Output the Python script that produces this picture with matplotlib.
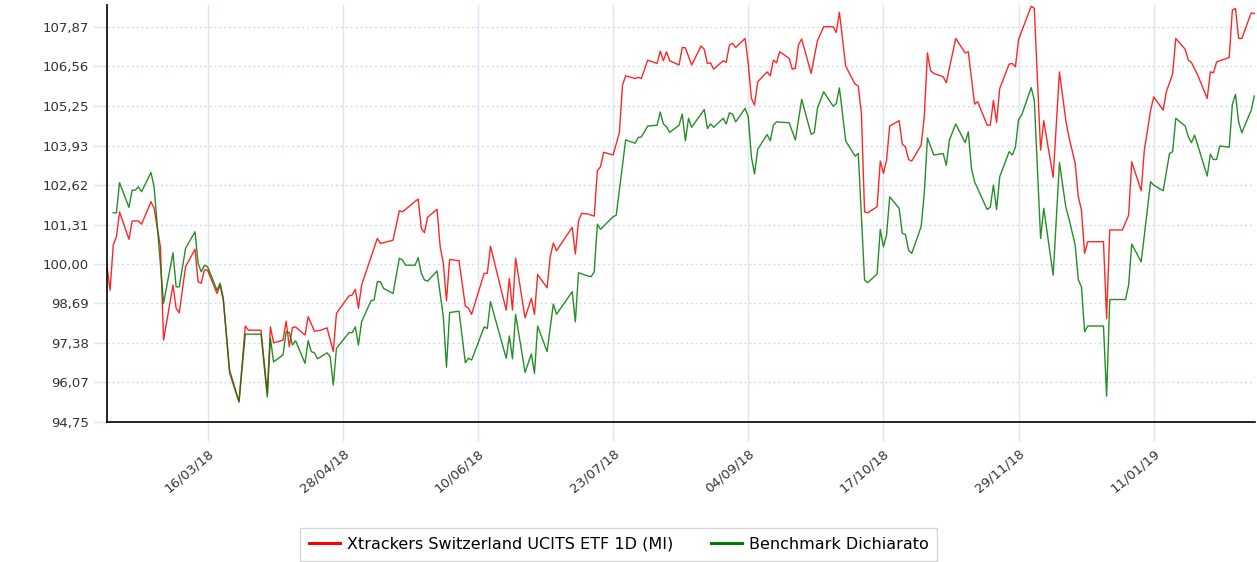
# Recreate the ETF vs benchmark performance chart.
import matplotlib
matplotlib.use("Agg")
import matplotlib.pyplot as plt
import pandas as pd

# Start date of the chart window; the series below are stored as day offsets from it.
start = pd.Timestamp("2018-02-12")

# Xtrackers Switzerland UCITS ETF 1D (MI).
etf_days = [0, 1, 2, 3, 4, 7, 8, 10, 11, 14,
            15, 17, 18, 21, 22, 23, 25, 28, 29, 30,
            31, 32, 35, 36, 37, 39, 42, 44, 45, 49,
            51, 52, 53, 56, 57, 58, 59, 60, 63, 64,
            66, 68, 70, 72, 73, 77, 78, 79, 80, 81,
            86, 87, 91, 93, 94, 99, 100, 101, 102, 105,
            106, 107, 108, 109, 112, 114, 115, 116, 120, 121,
            122, 127, 128, 129, 130, 133, 135, 136, 137, 140,
            141, 142, 143, 148, 149, 150, 151, 153, 155, 156,
            157, 158, 161, 163, 164, 165, 168, 169, 170, 172,
            175, 176, 177, 178, 179, 182, 183, 184, 186, 189,
            190, 191, 192, 193, 196, 197, 198, 199, 200, 203,
            204, 205, 206, 207, 210, 211, 212, 213, 214, 217,
            218, 219, 220, 221, 224, 226, 228, 231, 232, 233,
            235, 238, 239, 240, 241, 242, 245, 246, 247, 248,
            249, 252, 253, 254, 255, 256, 259, 260, 261, 262,
            263, 266, 267, 270, 273, 274, 276, 277, 280, 281,
            282, 283, 284, 287, 288, 289, 290, 294, 295, 297,
            298, 301, 303, 305, 306, 308, 309, 310, 311, 312,
            317, 318, 319, 323, 325, 326, 329, 330, 332, 333,
            336, 337, 339, 340, 343, 344, 345, 347, 350, 351,
            352, 353, 357, 358, 359, 360, 361, 364, 365]
etf_vals = [99.91, 99.13, 100.63, 100.90, 101.73, 100.82, 101.43, 101.43, 101.32, 102.07,
            101.85, 100.57, 97.47, 99.30, 98.53, 98.38, 99.91, 100.49, 99.41, 99.36,
            99.80, 99.80, 99.02, 99.30, 98.80, 96.48, 95.42, 97.94, 97.80, 97.80,
            95.70, 97.91, 97.38, 97.47, 98.10, 97.25, 97.89, 97.91, 97.64, 98.25,
            97.77, 97.80, 97.88, 97.09, 98.36, 98.94, 98.97, 99.16, 98.53, 99.30,
            100.85, 100.68, 100.79, 101.77, 101.73, 102.16, 101.18, 101.04, 101.55, 101.82,
            100.57, 100.02, 98.78, 100.15, 100.11, 98.60, 98.53, 98.33, 99.69, 99.69,
            100.59, 98.47, 99.52, 98.47, 100.19, 98.21, 98.86, 98.33, 99.65, 99.21,
            100.24, 100.70, 100.44, 101.22, 100.33, 101.43, 101.68, 101.66, 101.59, 103.10,
            103.23, 103.71, 103.62, 104.36, 105.94, 106.25, 106.16, 106.20, 106.16, 106.77,
            106.66, 107.07, 106.75, 107.05, 106.75, 106.61, 107.19, 107.18, 106.61, 107.24,
            107.13, 106.66, 106.68, 106.47, 106.75, 106.70, 107.27, 107.33, 107.19, 107.49,
            106.66, 105.50, 105.28, 106.05, 106.38, 106.25, 106.77, 106.68, 107.05, 106.83,
            106.47, 106.50, 107.29, 107.47, 106.33, 107.41, 107.88, 107.88, 107.69, 108.36,
            106.57, 105.97, 105.91, 105.00, 101.73, 101.70, 101.90, 103.42, 103.01, 103.45,
            104.58, 104.76, 103.98, 103.89, 103.47, 103.42, 103.95, 104.89, 107.01, 106.42,
            106.33, 106.22, 106.02, 107.49, 107.01, 107.05, 105.31, 105.39, 104.61, 104.61,
            105.44, 104.70, 105.83, 106.64, 106.66, 106.55, 107.46, 108.56, 108.49, 103.78,
            104.76, 102.88, 106.38, 104.78, 104.22, 103.34, 102.23, 101.79, 100.35, 100.74,
            100.74, 98.19, 101.13, 101.13, 101.62, 103.39, 102.43, 103.78, 105.11, 105.55,
            105.11, 105.72, 106.31, 107.49, 107.13, 106.77, 106.69, 106.27, 105.50, 106.38,
            106.35, 106.71, 106.86, 108.43, 108.49, 107.49, 107.49, 108.34, 108.32]

# Benchmark Dichiarato.
bench_days = [2, 3, 4, 7, 8, 9, 10, 11, 14, 15,
              18, 21, 22, 23, 25, 28, 29, 30, 31, 32,
              35, 36, 37, 39, 42, 44, 49, 51, 52, 53,
              56, 57, 58, 59, 60, 63, 64, 65, 66, 67,
              70, 71, 72, 73, 77, 78, 79, 80, 81, 84,
              85, 86, 87, 88, 91, 93, 94, 95, 98, 99,
              100, 101, 102, 105, 106, 107, 108, 109, 112, 114,
              115, 116, 120, 121, 122, 127, 128, 129, 130, 133,
              135, 136, 137, 140, 142, 143, 148, 149, 150, 153,
              154, 155, 156, 157, 161, 162, 165, 168, 169, 170,
              172, 175, 176, 177, 178, 179, 182, 183, 184, 185,
              186, 190, 191, 192, 193, 196, 197, 198, 199, 200,
              203, 204, 205, 206, 207, 210, 211, 212, 213, 217,
              219, 221, 224, 225, 226, 228, 231, 232, 233, 235,
              238, 239, 241, 242, 245, 246, 247, 248, 249, 252,
              253, 254, 255, 256, 259, 260, 261, 263, 266, 267,
              268, 270, 273, 274, 275, 276, 280, 281, 282, 283,
              284, 287, 288, 289, 290, 291, 294, 295, 297, 298,
              301, 303, 305, 306, 308, 309, 310, 311, 312, 317,
              318, 319, 324, 325, 326, 329, 332, 333, 336, 338,
              339, 340, 343, 344, 345, 346, 350, 351, 352, 353,
              354, 357, 358, 359, 360, 361, 364, 365]
bench_vals = [101.70, 101.70, 102.70, 101.88, 102.45, 102.45, 102.56, 102.40, 103.04, 102.56,
              98.69, 100.37, 99.24, 99.24, 100.52, 101.07, 100.02, 99.74, 99.96, 99.91,
              99.13, 99.36, 98.87, 96.38, 95.42, 97.67, 97.67, 95.59, 97.53, 96.75,
              96.98, 97.75, 97.72, 97.31, 97.45, 96.70, 97.45, 97.09, 97.05, 96.85,
              97.05, 96.92, 95.98, 97.20, 97.72, 97.72, 97.91, 97.31, 98.08, 98.78,
              98.81, 99.41, 99.41, 99.19, 99.02, 100.19, 100.13, 99.96, 99.96, 100.21,
              99.69, 99.47, 99.43, 99.77, 99.02, 98.25, 96.57, 98.39, 98.43, 96.72,
              96.87, 96.81, 97.91, 97.86, 98.75, 96.87, 97.61, 96.85, 98.33, 96.40,
              97.01, 96.37, 97.94, 97.09, 98.67, 98.33, 99.08, 98.08, 99.71, 99.60,
              99.58, 99.74, 101.32, 101.15, 101.57, 101.62, 104.12, 104.01, 104.20, 104.22,
              104.58, 104.61, 105.05, 104.65, 104.56, 104.37, 104.61, 104.98, 104.09, 104.84,
              104.54, 105.13, 104.50, 104.65, 104.54, 104.84, 104.65, 105.02, 104.98, 104.72,
              105.17, 104.89, 103.56, 102.99, 103.81, 104.30, 104.09, 104.61, 104.72, 104.69,
              104.12, 105.47, 104.31, 104.36, 105.17, 105.72, 105.24, 105.33, 105.85, 104.09,
              103.58, 103.67, 99.47, 99.38, 99.67, 101.15, 100.57, 100.96, 102.23, 101.85,
              101.02, 100.98, 100.46, 100.35, 101.24, 102.35, 104.19, 103.62, 103.67, 103.28,
              104.12, 104.65, 104.03, 104.39, 103.18, 102.73, 101.81, 101.89, 102.62, 101.81,
              102.90, 103.73, 103.62, 103.89, 104.80, 104.95, 105.86, 105.44, 100.85, 101.85,
              99.63, 103.37, 101.90, 101.51, 100.63, 99.47, 99.24, 97.75, 97.94, 97.94,
              95.61, 98.82, 98.82, 99.30, 100.66, 100.07, 102.73, 102.62, 102.43, 103.67,
              103.73, 104.84, 104.58, 104.22, 104.03, 104.28, 102.92, 103.65, 103.47, 103.47,
              103.92, 103.88, 105.31, 105.63, 104.72, 104.36, 105.11, 105.58]

# Axis ticks as printed on the chart.
y_ticks = [94.75, 96.07, 97.38, 98.69, 100.00, 101.31, 102.62, 103.93, 105.25, 106.56, 107.87]
x_ticks = ["2018-03-16", "2018-04-28", "2018-06-10", "2018-07-23",
           "2018-09-04", "2018-10-17", "2018-11-29", "2019-01-11"]

etf_dates = start + pd.to_timedelta(etf_days, unit="D")
bench_dates = start + pd.to_timedelta(bench_days, unit="D")

fig = plt.figure(figsize=(12.57, 5.62), dpi=100)
ax = fig.add_axes([0.0851, 0.249, 0.9133, 0.742])

ax.plot(etf_dates, etf_vals, color="#ff0000", lw=1.0, alpha=0.85,
        label="Xtrackers Switzerland UCITS ETF 1D (MI)")
ax.plot(bench_dates, bench_vals, color="#007a00", lw=1.0, alpha=0.85,
        label="Benchmark Dichiarato")

ax.set_xlim(start, start + pd.Timedelta(days=365.2))
ax.set_ylim(94.75, 108.6)

# Ticks and grid
grid_blue = "#dbe6f4"
xt = pd.to_datetime(x_ticks)
ax.set_xticks(xt)
ax.set_xticklabels([d.strftime("%d/%m/%y") for d in xt], rotation=40, ha="right",
                   rotation_mode="anchor", fontsize=9.5, color="#333333")
ax.set_yticks(y_ticks)
ax.set_yticklabels([f"{v:.2f}".replace(".", ",") for v in y_ticks], fontsize=9.5, color="#333333")
ax.tick_params(axis="x", length=14, color=grid_blue, width=1, pad=4)
ax.tick_params(axis="y", length=10, color=grid_blue, width=1, pad=3)
ax.grid(axis="x", color=grid_blue, lw=1, ls="-")
ax.grid(axis="y", color="#cddcf0", lw=1, ls=(0, (1.5, 2)))
ax.set_axisbelow(True)

for s in ["top", "right"]:
    ax.spines[s].set_visible(False)
ax.spines["left"].set_color("black")
ax.spines["bottom"].set_color("black")
ax.spines["left"].set_linewidth(1.2)
ax.spines["bottom"].set_linewidth(1.2)

# Legend box at the bottom, partly cut by the image edge like the original
leg = fig.legend(loc="upper center", bbox_to_anchor=(0.4924, 0.0605), ncol=2,
                 fontsize=11.5, frameon=True, fancybox=False, handlelength=1.9,
                 handletextpad=0.45, columnspacing=2.4, borderpad=0.55,
                 borderaxespad=0)
leg.get_frame().set_edgecolor("#cccccc")
leg.get_frame().set_linewidth(1)
for line in leg.get_lines():
    line.set_linewidth(2.2)
    line.set_alpha(1)

fig.savefig("out.png", dpi=100)
